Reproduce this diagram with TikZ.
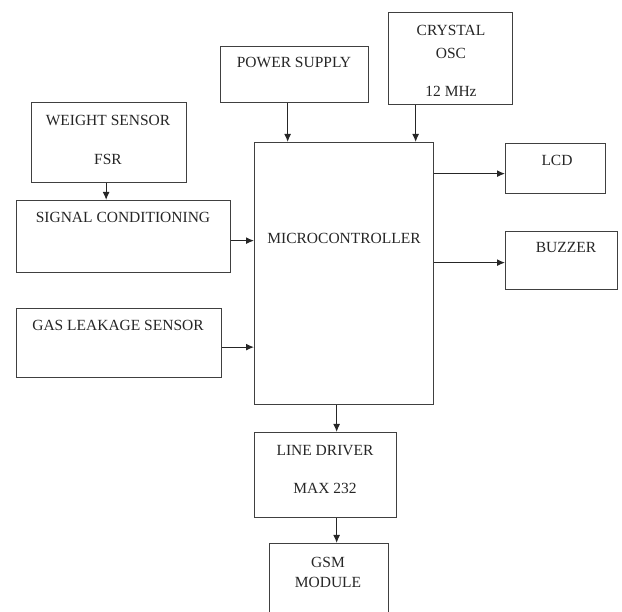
\documentclass[tikz,border=0pt]{standalone}
\usepackage{fontspec}
\setmainfont{Liberation Serif}
\usetikzlibrary{arrows.meta}

\tikzset{
  blk/.style={draw=black!75, line width=1.3pt, rectangle, inner sep=0pt, anchor=north west},
  txt/.style={font=\fontsize{15.5}{18}\selectfont, inner sep=0pt, text=black!85},
  arr/.style={draw=black!85, line width=1.2pt, -{Latex[length=8pt,width=7pt]}}
}

\begin{document}
\begin{tikzpicture}[x=1pt, y=-1pt]

\clip (0,0) rectangle (622,612);

% Blocks: name / left / top / width / height
\foreach \name/\x/\y/\w/\h in {pow/220/46/148/56, osc/388/12/124/92, wgt/31/102/155/80,
    sig/16/200/214/72, gas/16/308/205/69, mcu/254/142/179/262, lcd/505/143/100/50,
    buz/505/231/112/58, drv/254/432/142/85, gsm/269/543/119/76}
  \node[blk, minimum width=\w pt, minimum height=\h pt] (\name) at (\x,\y) {};

% Block texts
\foreach \name/\x/\y/\t in {tpow/294/62/POWER SUPPLY, toscA/451/30/CRYSTAL, toscB/451/53/OSC,
    toscC/451/91/12 MHz, twgtA/108/120/WEIGHT SENSOR, twgtB/108/159/FSR,
    tsig/123/217/SIGNAL CONDITIONING, tgas/118/325/GAS LEAKAGE SENSOR,
    tmcu/344/238/MICROCONTROLLER, tlcd/557/160/LCD, tbuz/566/248/BUZZER,
    tdrvA/325/451/LINE DRIVER, tdrvB/325/488/MAX 232, tgsmA/328/562/GSM, tgsmB/328/582/MODULE}
  \node[txt] (\name) at (\x,\y) {\t};

% Connectors
\draw[arr] ([xshift=-7pt]pow.south) -- ([xshift=-7pt]pow.south |- mcu.north);
\draw[arr] ([xshift=-35pt]osc.south) -- ([xshift=-35pt]osc.south |- mcu.north);
\draw[arr] ([xshift=-3pt]wgt.south) -- ([xshift=-3pt]wgt.south |- sig.north);
\foreach \a in {sig, gas} \draw[arr] ([yshift=-4pt]\a.east) -- ([yshift=-4pt]\a.east -| mcu.west);
\foreach \b/\s in {lcd/-5, buz/-2} \draw[arr] ([yshift=\s pt]mcu.east |- \b) -- ([yshift=\s pt]\b.west);
\draw[arr] ([xshift=11pt]drv.north |- mcu.south) -- ([xshift=11pt]drv.north);
\draw[arr] ([xshift=11pt]drv.south) -- ([xshift=11pt]drv.south |- gsm.north);

\end{tikzpicture}
\end{document}
